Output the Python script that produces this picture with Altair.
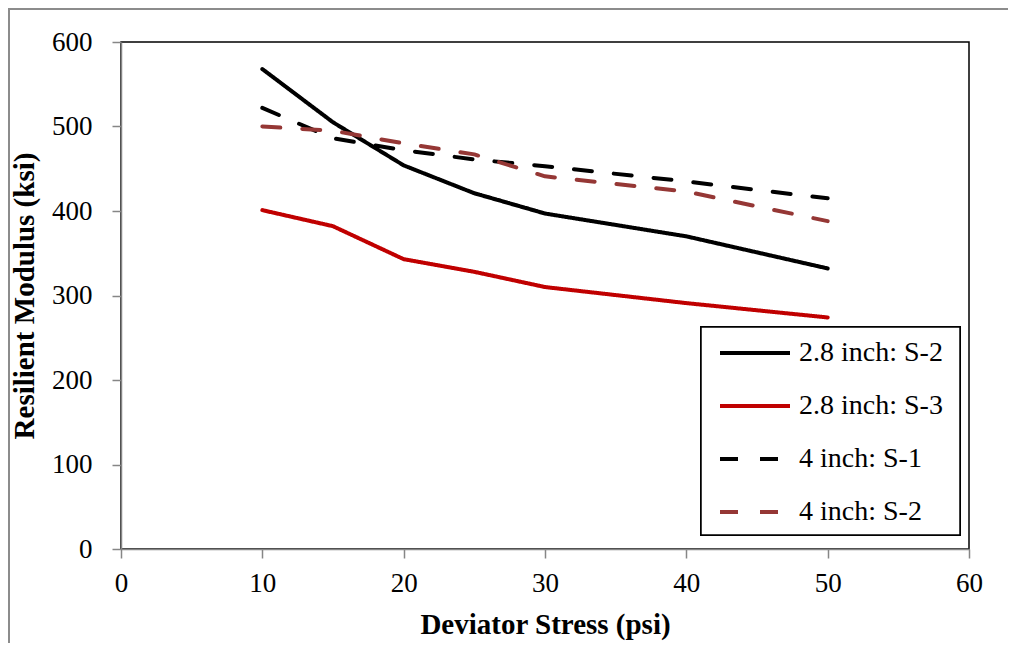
import altair as alt
import pandas as pd

stress = [10, 15, 20, 25, 30, 40, 50]
s2_28 = [568, 505, 454, 421, 397, 370, 332]
s3_28 = [401, 382, 343, 328, 310, 291, 274]
s1_4 = [522, 486, 472, 461, 453, 435, 415]
s2_4 = [500, 495, 480, 467, 441, 423, 388]

series_names = ["2.8 inch: S-2", "2.8 inch: S-3", "4 inch: S-1", "4 inch: S-2"]
series_values = [s2_28, s3_28, s1_4, s2_4]
colors = ["#000000", "#C00000", "#000000", "#953735"]
dashes = [[1, 0], [1, 0], [18, 22], [18, 22]]

rows = []
for name, vals in zip(series_names, series_values):
    for x, y in zip(stress, vals):
        rows.append({"series": name, "stress": x, "modulus": y})
df = pd.DataFrame(rows)

FONT = "Liberation Serif"
W, H = 848, 507

lines = alt.Chart(df).mark_line(strokeWidth=4, strokeCap="round", strokeJoin="round").encode(
    x=alt.X("stress:Q", scale=alt.Scale(domain=[0, 60], nice=False),
            axis=alt.Axis(values=[0, 10, 20, 30, 40, 50, 60], title="Deviator Stress (psi)")),
    y=alt.Y("modulus:Q", scale=alt.Scale(domain=[0, 600], nice=False),
            axis=alt.Axis(values=[0, 100, 200, 300, 400, 500, 600], title="Resilient Modulus (ksi)")),
    color=alt.Color("series:N", scale=alt.Scale(domain=series_names, range=colors),
                    legend=alt.Legend(title=None)),
    strokeDash=alt.StrokeDash("series:N", scale=alt.Scale(domain=series_names, range=dashes),
                              legend=alt.Legend(title=None)),
    detail="series:N",
)

frame_top = alt.Chart(df).mark_rule(color="#8c8c8c", strokeWidth=2, clip=False).encode(
    x=alt.value(-113), x2=alt.value(900), y=alt.value(-33)
)
frame_left = alt.Chart(df).mark_rule(color="#8c8c8c", strokeWidth=2, clip=False).encode(
    x=alt.value(-112), y=alt.value(-33), y2=alt.value(640)
)
legend_box = alt.Chart(df).mark_rect(fill="#ffffff", stroke="#000000", strokeWidth=1.5, clip=False).encode(
    x=alt.value(580), x2=alt.value(839), y=alt.value(285), y2=alt.value(493)
)

chart = alt.layer(frame_top, frame_left, lines, legend_box).properties(
    width=W, height=H,
    autosize=alt.AutoSizeParams(type="none"),
    padding={"left": 113, "top": 34, "right": 39, "bottom": 94},
    background="white",
).configure_view(
    stroke="#000000", strokeWidth=1.5
).configure_axis(
    grid=False, labelFlush=False, labelOverlap=False,
    domainColor="#868686", domainWidth=1.5,
    tickColor="#868686", tickWidth=1.5, tickSize=9,
    labelFont=FONT, labelFontSize=27, labelColor="#000000",
    titleFont=FONT, titleFontSize=29, titleFontWeight="bold", titleColor="#000000",
).configure_axisX(
    labelPadding=12, titlePadding=14,
).configure_axisY(
    labelPadding=20, titlePadding=12,
).configure_legend(
    orient="none", legendX=597, legendY=274,
    padding=0,
    symbolType="stroke", symbolSize=4900, symbolStrokeWidth=4,
    labelFont=FONT, labelFontSize=28, labelColor="#000000", labelOffset=7,
    rowPadding=2, labelLimit=400,
)

chart.save("out.html", embed_options={"renderer": "svg", "actions": False})
